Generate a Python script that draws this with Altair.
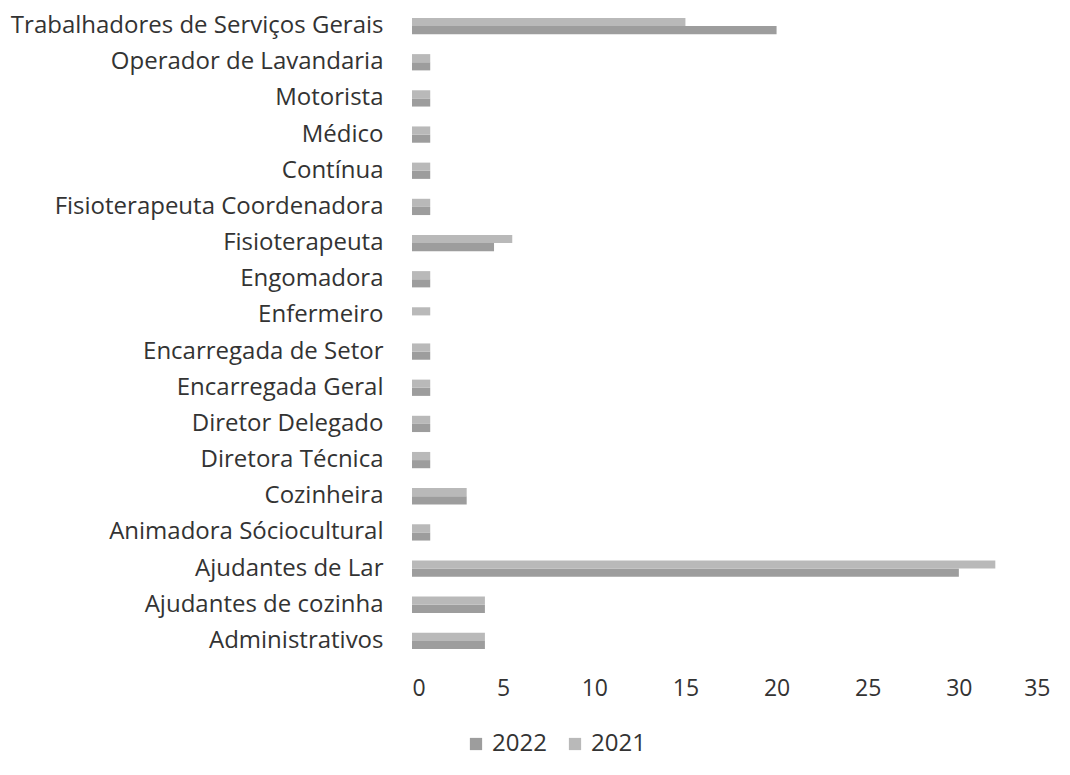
import altair as alt
import pandas as pd

categories = [
    "Trabalhadores de Serviços Gerais",
    "Operador de Lavandaria",
    "Motorista",
    "Médico",
    "Contínua",
    "Fisioterapeuta Coordenadora",
    "Fisioterapeuta",
    "Engomadora",
    "Enfermeiro",
    "Encarregada de Setor",
    "Encarregada Geral",
    "Diretor Delegado",
    "Diretora Técnica",
    "Cozinheira",
    "Animadora Sóciocultural",
    "Ajudantes de Lar",
    "Ajudantes de cozinha",
    "Administrativos",
]
values_2022 = [20, 1, 1, 1, 1, 1, 4.5, 1, 0, 1, 1, 1, 1, 3, 1, 30, 4, 4]
values_2021 = [15, 1, 1, 1, 1, 1, 5.5, 1, 1, 1, 1, 1, 1, 3, 1, 32, 4, 4]
series_names = ["2022", "2021"]
series_colors = ["#9d9d9d", "#b9b9b9"]
x_ticks = [0, 5, 10, 15, 20, 25, 30, 35]

rows = []
for c, a, b in zip(categories, values_2022, values_2021):
    rows.append({"cat": c, "serie": "2022", "v": a})
    rows.append({"cat": c, "serie": "2021", "v": b})
df = pd.DataFrame(rows)

FONT = "Open Sans"

chart = (
    alt.Chart(df)
    .mark_bar()
    .encode(
        y=alt.Y(
            "cat:N",
            sort=categories,
            scale=alt.Scale(paddingInner=0.55, paddingOuter=0.275),
            axis=alt.Axis(
                title=None, ticks=False, domain=False, labelFontSize=24,
                labelFont=FONT, labelColor="#333333", labelPadding=29,
                labelLimit=600,
            ),
        ),
        yOffset=alt.YOffset("serie:N", sort=["2021", "2022"]),
        x=alt.X(
            "v:Q",
            scale=alt.Scale(domain=[0, 35], nice=False),
            axis=alt.Axis(
                title=None, values=x_ticks, grid=False, ticks=False, domain=False,
                labelFontSize=23, labelFont=FONT, labelColor="#333333",
                labelPadding=18,
            ),
        ),
        color=alt.Color(
            "serie:N",
            scale=alt.Scale(domain=series_names, range=series_colors),
            legend=alt.Legend(
                title=None, orient="none", direction="horizontal",
                legendX=52, legendY=724, symbolType="square", symbolSize=150,
                labelFontSize=24, labelFont=FONT, labelColor="#333333",
                columnPadding=16, symbolStrokeWidth=0,
            ),
        ),
    )
    .properties(
        width=638,
        height=651,
        background="white",
        autosize=alt.AutoSizeParams(type="none"),
        padding={"left": 404, "top": 0, "right": 10, "bottom": 110},
    )
    .configure_view(strokeWidth=0, strokeOpacity=0)
)

chart.save("out.html", embed_options={"renderer": "svg", "actions": False})
